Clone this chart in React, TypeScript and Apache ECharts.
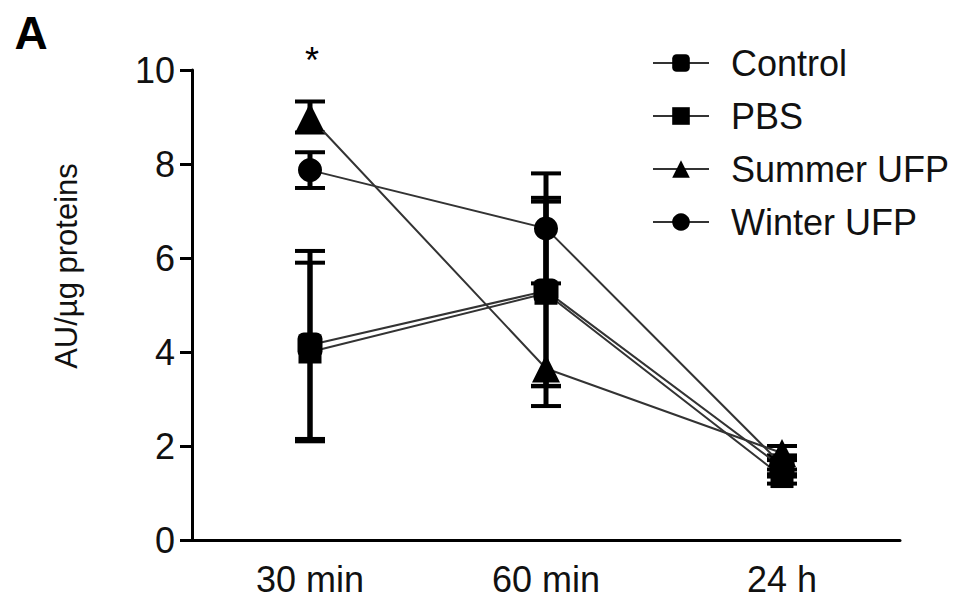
import React, { useEffect, useRef } from "react";
import * as echarts from "echarts";

const categories = ["30 min", "60 min", "24 h"];
const seriesNames = ["Control", "PBS", "Summer UFP", "Winter UFP"];
const controlMean = [4.15, 5.3, 1.55];
const controlErrUp = [2.0, 1.98, 0.2];
const controlErrDown = [2.0, 2.02, 0.2];
const pbsMean = [4.0, 5.25, 1.35];
const pbsErrUp = [1.9, 1.95, 0.15];
const pbsErrDown = [1.9, 1.98, 0.15];
const summerMean = [9.0, 3.65, 1.85];
const summerErrUp = [0.33, 0, 0.15];
const summerErrDown = [0.33, 0.8, 0.15];
const winterMean = [7.87, 6.63, 1.6];
const winterErrUp = [0.38, 1.17, 0.2];
const winterErrDown = [0.38, 1.17, 0.2];
const yMin = 0;
const yMax = 10;
const yInterval = 2;

const FONT = "'Liberation Sans', Arial, Helvetica, sans-serif";

const groups = [
  { name: seriesNames[0], mean: controlMean, up: controlErrUp, down: controlErrDown, symbol: "roundRect", size: 25 },
  { name: seriesNames[1], mean: pbsMean, up: pbsErrUp, down: pbsErrDown, symbol: "rect", size: 23 },
  { name: seriesNames[2], mean: summerMean, up: summerErrUp, down: summerErrDown, symbol: "triangle", size: 28 },
  { name: seriesNames[3], mean: winterMean, up: winterErrUp, down: winterErrDown, symbol: "circle", size: 24 },
];

export default function App() {
  const ref = useRef<HTMLDivElement>(null);
  useEffect(() => {
    if (!ref.current) return;
    const chart = echarts.init(ref.current, undefined, { renderer: "svg" });

    const errorSeries = groups.map((g) => ({
      type: "custom",
      name: g.name + " SEM",
      z: 1,
      silent: true,
      data: g.mean.map((m, i) => [i, m - g.down[i], m + g.up[i], m]),
      renderItem: (params: any, api: any) => {
        const x = api.value(0);
        const lo = api.coord([x, api.value(1)]);
        const hi = api.coord([x, api.value(2)]);
        const mid = api.coord([x, api.value(3)]);
        const half = 15;
        const style = { stroke: "#000", lineWidth: 5 };
        const capStyle = { stroke: "#000", lineWidth: 4 };
        const children: any[] = [
          { type: "line", shape: { x1: lo[0], y1: lo[1], x2: hi[0], y2: hi[1] }, style },
        ];
        if (Math.abs(lo[1] - mid[1]) > 0.5) {
          children.push({ type: "line", shape: { x1: lo[0] - half, y1: lo[1], x2: lo[0] + half, y2: lo[1] }, style: capStyle });
        }
        if (Math.abs(hi[1] - mid[1]) > 0.5) {
          children.push({ type: "line", shape: { x1: hi[0] - half, y1: hi[1], x2: hi[0] + half, y2: hi[1] }, style: capStyle });
        }
        return { type: "group", children };
      },
    }));

    const lineSeries = groups.map((g) => ({
      type: "line",
      name: g.name,
      z: 3,
      data: g.mean,
      symbol: g.symbol,
      symbolSize: g.size,
      showAllSymbol: true,
      itemStyle: { color: "#000" },
      lineStyle: { color: "#333", width: 2 },
    }));

    chart.setOption({
      animation: false,
      backgroundColor: "#fff",
      grid: { left: 192, right: 67, top: 70, bottom: 64, containLabel: false },
      legend: {
        data: seriesNames,
        orient: "vertical",
        left: 647,
        top: 38,
        itemWidth: 56,
        itemHeight: 22,
        itemGap: 13,
        selectedMode: false,
        textStyle: {
          fontFamily: FONT,
          fontSize: 36,
          color: "#111",
          lineHeight: 40,
          padding: [0, 0, 0, 17],
        },
      },
      xAxis: {
        type: "category",
        data: categories,
        boundaryGap: true,
        axisLine: { lineStyle: { color: "#000", width: 3 } },
        axisTick: { alignWithLabel: true, length: 12, lineStyle: { color: "#000", width: 3 } },
        axisLabel: { fontFamily: FONT, fontSize: 36, color: "#111", margin: 21 },
        splitLine: { show: false },
      },
      yAxis: {
        type: "value",
        min: yMin,
        max: yMax,
        interval: yInterval,
        axisLine: { show: true, lineStyle: { color: "#000", width: 3 } },
        axisTick: { show: true, length: 12, lineStyle: { color: "#000", width: 3 } },
        axisLabel: { fontFamily: FONT, fontSize: 36, color: "#111", margin: 17 },
        splitLine: { show: false },
      },
      graphic: [
        {
          type: "text",
          x: 31,
          y: 33,
          style: {
            text: "A",
            fontFamily: FONT,
            fontSize: 46,
            fontWeight: "bold",
            fill: "#000",
            textAlign: "center",
            textVerticalAlign: "middle",
          },
        },
        {
          type: "text",
          x: 66,
          y: 266,
          rotation: Math.PI / 2,
          style: {
            text: "AU/µg proteins",
            fontFamily: FONT,
            fontSize: 31,
            fill: "#111",
            textAlign: "center",
            textVerticalAlign: "middle",
          },
        },
        {
          type: "text",
          x: 312,
          y: 42,
          style: {
            text: "*",
            fontFamily: FONT,
            fontSize: 36,
            fill: "#000",
            textAlign: "center",
            textVerticalAlign: "top",
          },
        },
      ],
      series: [...errorSeries, ...lineSeries],
    });

    return () => chart.dispose();
  }, []);

  return (
    <div
      ref={ref}
      style={{ position: "fixed", left: 0, top: 0, width: 967, height: 604 }}
    />
  );
}
